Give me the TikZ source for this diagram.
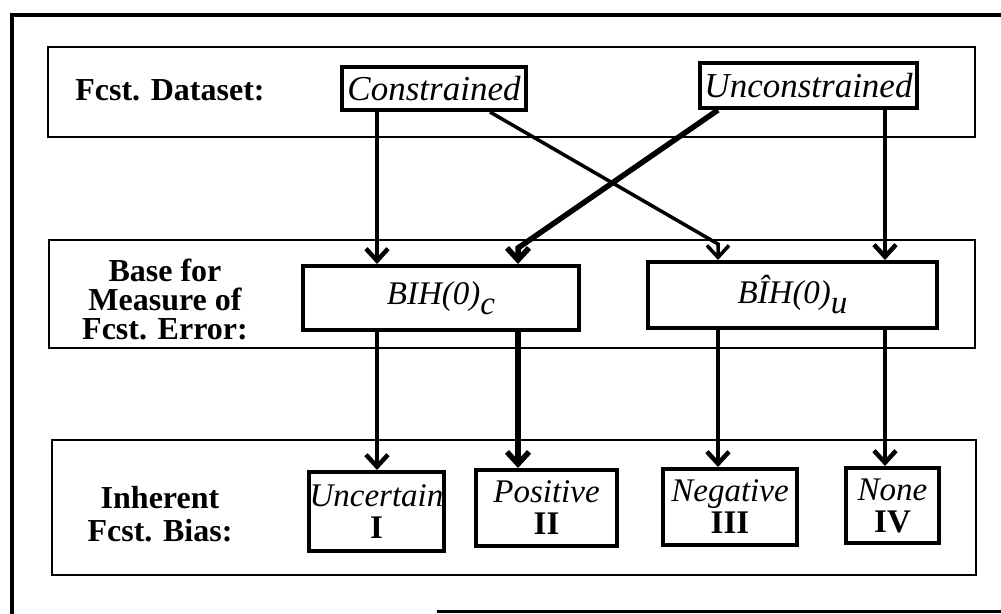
\documentclass[tikz,border=0pt]{standalone}
\usepackage{fontspec}
\setmainfont{Liberation Serif}
\usetikzlibrary{arrows.meta, positioning, calc}

\begin{document}
\begin{tikzpicture}[x=1pt, y=-1pt, >={Straight Barb[length=12pt, width=22pt]},
  panel/.style={draw, line width=2.5pt, inner sep=0pt},
  choice/.style={draw, line width=4pt, inner sep=1pt, align=center,
    font=\fontsize{33}{32}\selectfont\itshape},
  lbl/.style={align=center, font=\fontsize{32}{29}\selectfont\bfseries},
  arr/.style={->, line width=4.5pt},
  arrthin/.style={->, line width=3.5pt},
  arrthick/.style={->, line width=5.5pt}]
\useasboundingbox (0,0) rectangle (1001,613);

% outer frame
\draw[line width=3.5pt] (1010,15) -- (12,15) -- (12,620);
\draw[line width=3pt] (437,611) -- (1010,611);

% the three bands
\node[panel, minimum width=927, minimum height=90] (dataset) at (511.5,92) {};
\node[panel, minimum width=926, minimum height=108] (base) at (512,294) {};
\node[panel, minimum width=924, minimum height=135] (bias) at (514,507.5) {};

\node[lbl] (lbldata) at (170,90) {Fcst. Dataset:};
\node[lbl] (lblbase) at (165,299) {Base for\\Measure of\\Fcst. Error:};
\node[lbl] (lblbias) at (160,514) {Inherent\\[4pt]Fcst. Bias:};

% datasets
\node[choice, font=\fontsize{35}{32}\selectfont\itshape, minimum width=184, minimum height=43] (con) at (434,88.5) {Constrained};
\node[choice, font=\fontsize{35}{32}\selectfont\itshape, minimum width=217, minimum height=45] (uncon) at (808.5,85.5) {Unconstrained};

% bases
\node[choice, minimum width=276, minimum height=64] (bihc) at (441,298)
  {BIH(0)\raisebox{-10pt}{c}};
\node[choice, minimum width=289, minimum height=66] (bihu) at (792.5,295)
  {BÎH(0)\raisebox{-10pt}{u}};

% biases
\node[choice, minimum width=131, minimum height=79] (unc) at (376.5,511.5)
  {Uncertain\\[0pt]{\upshape\bfseries I}};
\node[choice, minimum width=141, minimum height=76] (pos) at (546.5,508)
  {Positive\\[0pt]{\upshape\bfseries II}};
\node[choice, minimum width=134, minimum height=76] (neg) at (730,507)
  {Negative\\[0pt]{\upshape\bfseries III}};
\node[choice, minimum width=93, minimum height=75] (none) at (892.5,505.5)
  {None\\[0pt]{\upshape\bfseries IV}};

% columns of the arrows
\coordinate (c1) at (377,0);
\coordinate (c2) at (518,0);
\coordinate (c3) at (718,0);
\coordinate (c4) at (885,0);
\coordinate (d1) at (490,0);

\draw[arr] (con.south -| c1) -- (bihc.north -| c1);
\draw[arrthin] (con.south -| d1) -- ($(bihu.north -| c3)+(0,-16)$) -- (bihu.north -| c3);
\draw[arrthick] (uncon.south -| c3) -- ($(bihc.north -| c2)+(0,-16)$) -- (bihc.north -| c2);
\draw[arr] (uncon.south -| c4) -- (bihu.north -| c4);

\draw[arr] (bihc.south -| c1) -- (unc.north -| c1);
\draw[arrthick] (bihc.south -| c2) -- (pos.north -| c2);
\draw[arr] (bihu.south -| c3) -- (neg.north -| c3);
\draw[arr] (bihu.south -| c4) -- (none.north -| c4);
\end{tikzpicture}
\end{document}
